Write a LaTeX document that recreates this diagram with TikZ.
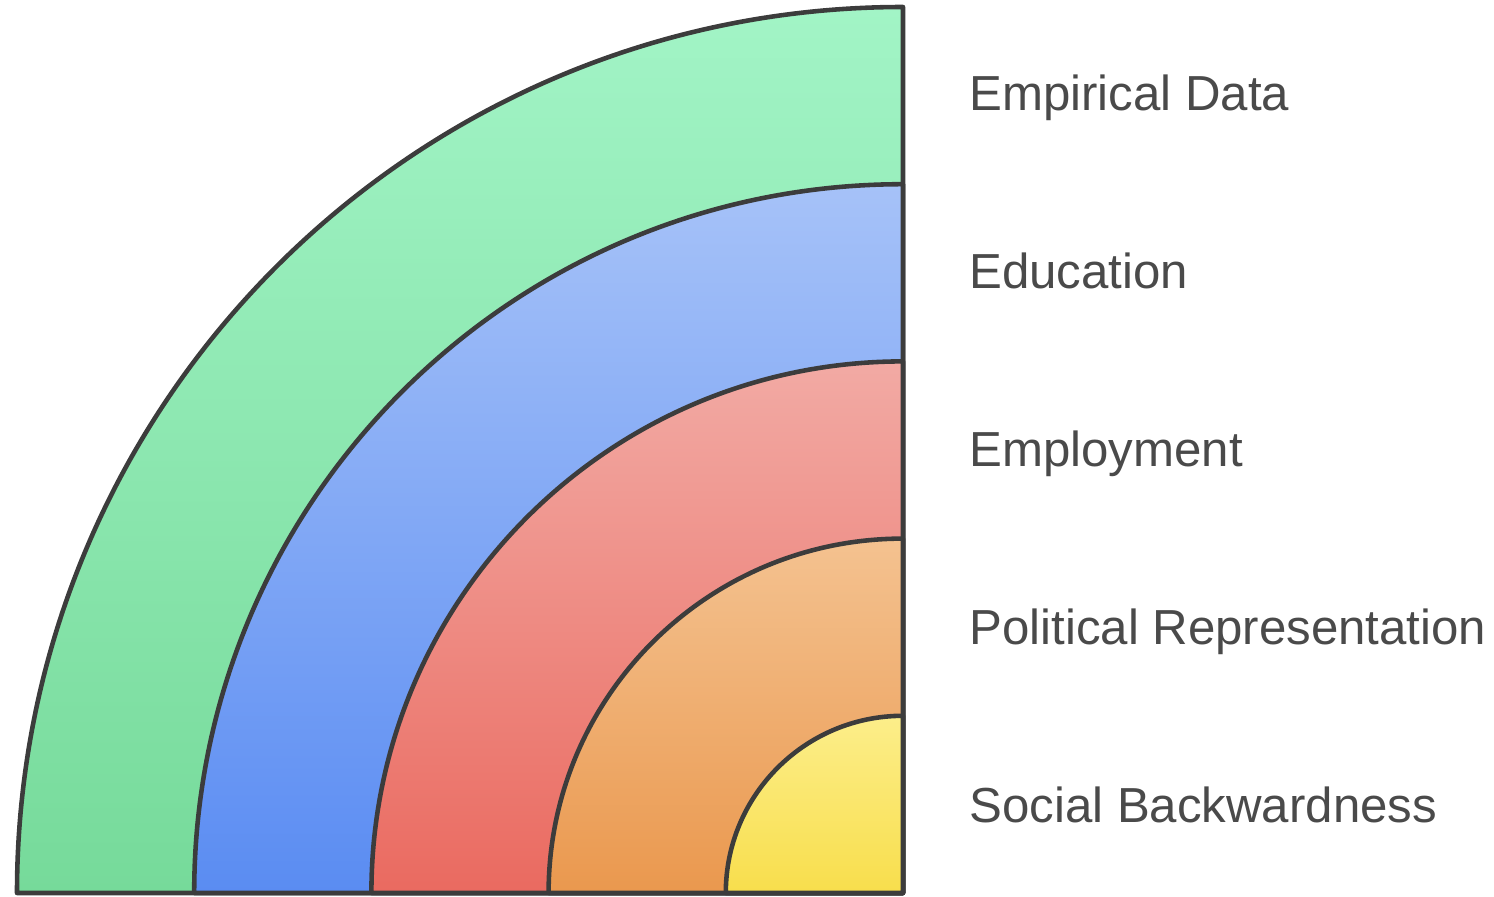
\documentclass[tikz,border=0pt]{standalone}
\usepackage{fontspec}
\setmainfont{Liberation Sans}

\definecolor{greentop}{HTML}{A2F4C6}
\definecolor{greenbot}{HTML}{76DA9A}
\definecolor{bluetop}{HTML}{A6C2F8}
\definecolor{bluebot}{HTML}{5A8CF2}
\definecolor{redtop}{HTML}{F2AAA4}
\definecolor{redbot}{HTML}{EA6A60}
\definecolor{orangetop}{HTML}{F4C290}
\definecolor{orangebot}{HTML}{EA984E}
\definecolor{yellowtop}{HTML}{FCEE8A}
\definecolor{yellowbot}{HTML}{F8DE4C}
\definecolor{edgegray}{HTML}{3C3C3C}
\definecolor{textgray}{HTML}{4A4A4A}

\tikzset{
    band/.style={draw=edgegray, line width=1.3pt, line join=round},
    label/.style={anchor=base west, text=textgray, font=\fontsize{14}{17}\selectfont}
}

\begin{document}
\begin{tikzpicture}

    \useasboundingbox (0,0) rectangle (14.94,8.97);

    \coordinate (O) at (9.03,0.04);

    \def\rstep{1.772}

    % quarter disks, outermost first
    \draw[band, top color=greentop, bottom color=greenbot]
        (O) -- ++(-5*\rstep,0) arc (180:90:5*\rstep) -- cycle;
    \draw[band, top color=bluetop, bottom color=bluebot]
        (O) -- ++(-4*\rstep,0) arc (180:90:4*\rstep) -- cycle;
    \draw[band, top color=redtop, bottom color=redbot]
        (O) -- ++(-3*\rstep,0) arc (180:90:3*\rstep) -- cycle;
    \draw[band, top color=orangetop, bottom color=orangebot]
        (O) -- ++(-2*\rstep,0) arc (180:90:2*\rstep) -- cycle;
    \draw[band, top color=yellowtop, bottom color=yellowbot]
        (O) -- ++(-1*\rstep,0) arc (180:90:1*\rstep) -- cycle;

    \node[label] (empirical) at (9.57,7.86) {Empirical Data};
    \node[label] (education) at (9.57,6.08) {Education};
    \node[label] (employment) at (9.57,4.30) {Employment};
    \node[label] (political) at (9.57,2.52) {Political Representation};
    \node[label] (social) at (9.57,0.74) {Social Backwardness};

\end{tikzpicture}
\end{document}
